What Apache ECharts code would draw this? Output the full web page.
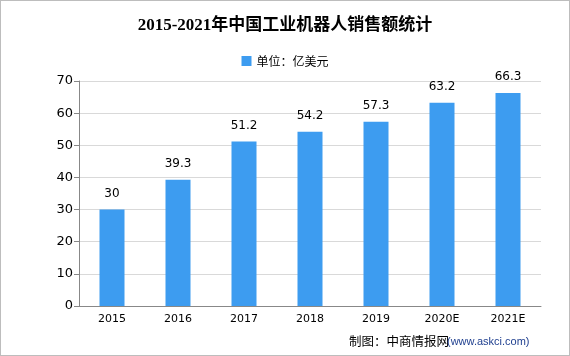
<!DOCTYPE html>
<html><head><meta charset="utf-8">
<script src="https://cdn.jsdelivr.net/npm/echarts@6/dist/echarts.min.js"></script>
<style>html,body{margin:0;padding:0;background:#fff}#c{width:570px;height:356px;box-sizing:border-box;border:1px solid #bdbdbd}</style>
</head><body><div id="c"></div>
<script>
const categories = ['2015','2016','2017','2018','2019','2020E','2021E'];
const values = [30, 39.3, 51.2, 54.2, 57.3, 63.2, 66.3];
const yTicks = [0,10,20,30,40,50,60,70];
const seriesName = '单位：亿美元';
const chart = echarts.init(document.getElementById('c'));
chart.setOption({
  animation:false,
  title:{text:'2015-2021年中国工业机器人销售额统计',left:'center',top:11,
    textStyle:{fontFamily:'Liberation Serif, Noto Sans CJK SC',fontWeight:'bold',fontSize:17,color:'#000'}},
  legend:{top:49,left:'center',itemWidth:10,itemHeight:10,icon:'rect',
    textStyle:{fontFamily:'Noto Sans CJK SC',fontSize:12,color:'#000'},data:[seriesName]},
  graphic:[
    {type:'text',left:348,top:334,style:{text:'制图：中商情报网',font:'12.5px "Noto Sans CJK SC"',fill:'#000'}},
    {type:'text',left:446,top:335,style:{text:'(www.askci.com)',font:'11px "Liberation Sans"',fill:'#1f3f8f'}}
  ],
  grid:{left:78,right:28,top:80,bottom:49},
  xAxis:{type:'category',data:categories,
    axisLine:{lineStyle:{color:'#888'}},axisTick:{lineStyle:{color:'#888'}},
    axisLabel:{color:'#000',fontSize:11,fontFamily:'DejaVu Sans',margin:8}},
  yAxis:{type:'value',min:0,max:70,interval:10,
    axisLine:{show:true,lineStyle:{color:'#888'}},axisTick:{show:true,lineStyle:{color:'#888'}},
    axisLabel:{color:'#000',fontSize:13,fontFamily:'DejaVu Sans',margin:6},
    splitLine:{lineStyle:{color:'#d9d9d9'}}},
  series:[{name:seriesName,type:'bar',data:values,barWidth:25,
    itemStyle:{color:'#3d9cf0'},
    label:{show:true,position:'top',distance:10,color:'#000',fontSize:12,fontFamily:'DejaVu Sans'}}]
});
</script></body></html>
